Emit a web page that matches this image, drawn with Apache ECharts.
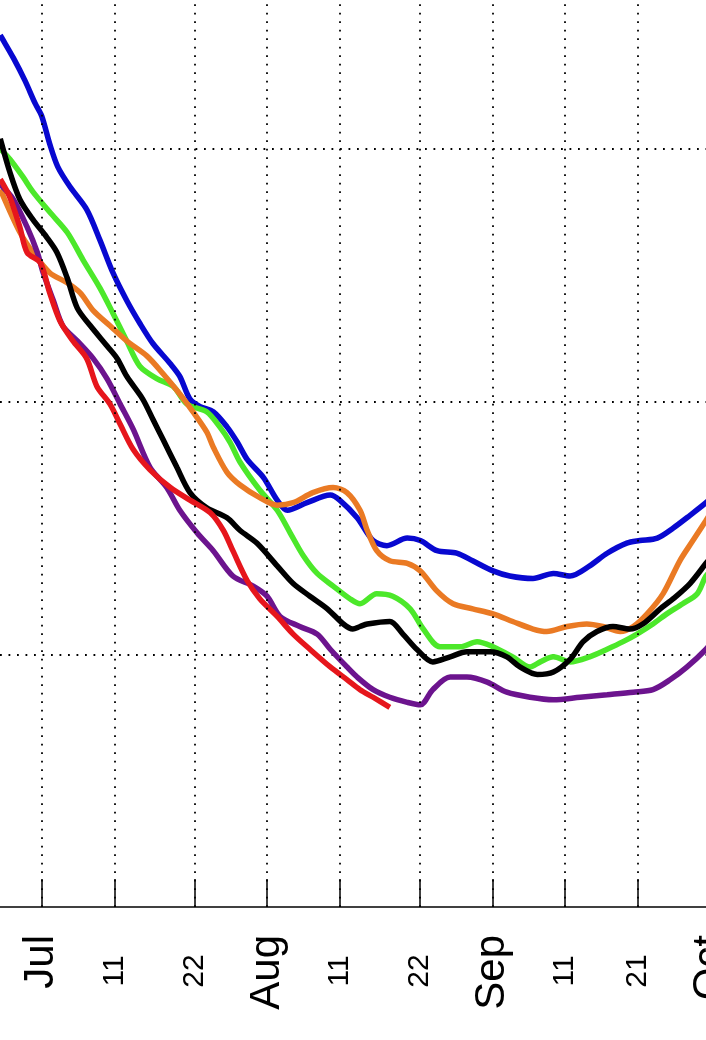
<!DOCTYPE html>
<html>
<head>
<meta charset="utf-8">
<script src="https://cdn.jsdelivr.net/npm/echarts@6/dist/echarts.min.js"></script>
<style>
html,body{margin:0;padding:0;background:#fff;}
#chart{width:706px;height:1040px;}
</style>
</head>
<body>
<div id="chart"></div>
<script>
// Tick positions (day of year) and their labels
const tickDays   = [182, 192, 203, 213, 223, 234, 244, 254, 264, 274];
const tickLabels = ['Jul', '11', '22', 'Aug', '11', '22', 'Sep', '11', '21', 'Oct'];
const monthDays  = [182, 213, 244, 274];
const dayDays    = [192, 203, 223, 234, 254, 264];

// Series: [day of year, extent]
const blueData = [[176.3,5.45],[176.5,5.44],[178.1,5.36],[179.7,5.27],[181.1,5.18],[182.0,5.13],[183.1,5.02],[184.2,4.93],[185.9,4.85],[188.2,4.76],[190.0,4.64],[191.8,4.51],[193.7,4.40],[195.5,4.31],[197.3,4.23],[199.7,4.15],[201.0,4.10],[202.4,4.01],[203.8,3.98],[205.6,3.96],[207.5,3.90],[208.9,3.84],[210.3,3.77],[212.5,3.70],[214.4,3.61],[215.8,3.57],[218.5,3.60],[221.7,3.63],[223.0,3.61],[225.4,3.54],[227.6,3.45],[229.5,3.43],[232.3,3.46],[234.1,3.45],[236.4,3.41],[239.1,3.40],[241.3,3.37],[244.1,3.33],[246.4,3.31],[249.6,3.30],[252.4,3.32],[254.7,3.31],[257.4,3.35],[259.8,3.40],[262.5,3.44],[264.3,3.45],[266.7,3.46],[268.9,3.50],[271.2,3.55],[273.4,3.60],[274.5,3.63]];
const greenData = [[176.3,5.00],[177.6,4.96],[179.4,4.89],[180.8,4.83],[183.1,4.75],[185.5,4.67],[187.7,4.56],[190.0,4.45],[191.8,4.35],[193.7,4.24],[195.5,4.14],[197.9,4.09],[200.1,4.06],[202.0,3.99],[204.7,3.96],[206.5,3.90],[207.9,3.84],[209.3,3.76],[212.0,3.65],[214.4,3.57],[216.2,3.48],[218.0,3.39],[219.9,3.32],[222.1,3.27],[224.4,3.22],[225.8,3.20],[228.1,3.24],[230.3,3.23],[232.7,3.18],[234.5,3.10],[236.8,3.03],[239.6,3.03],[241.9,3.05],[244.1,3.03],[246.8,2.99],[249.2,2.95],[250.6,2.97],[252.4,2.99],[254.7,2.97],[257.4,2.99],[259.8,3.02],[262.0,3.05],[263.9,3.08],[266.1,3.12],[268.0,3.16],[270.2,3.20],[272.2,3.24],[273.4,3.31],[274.5,3.34]];
const orangeData = [[176.3,4.84],[179.0,4.67],[180.8,4.59],[183.1,4.51],[185.5,4.47],[187.3,4.43],[189.1,4.36],[191.4,4.30],[193.7,4.24],[196.5,4.18],[198.7,4.11],[201.0,4.03],[202.8,3.96],[204.7,3.88],[205.6,3.82],[207.5,3.72],[209.3,3.67],[212.0,3.62],[214.4,3.59],[216.6,3.60],[219.3,3.64],[222.1,3.66],[224.0,3.64],[225.8,3.57],[226.8,3.49],[228.1,3.41],[229.9,3.37],[232.3,3.36],[234.1,3.33],[236.4,3.25],[238.6,3.20],[241.3,3.18],[244.1,3.16],[246.8,3.13],[249.6,3.10],[251.5,3.09],[254.3,3.11],[257.0,3.12],[259.2,3.11],[261.6,3.09],[263.4,3.11],[265.3,3.16],[267.5,3.24],[269.8,3.37],[271.6,3.45],[273.4,3.53],[274.5,3.58]];
const purpleData = [[176.3,4.86],[178.1,4.80],[180.0,4.69],[181.4,4.59],[182.2,4.51],[183.6,4.40],[184.9,4.30],[186.9,4.24],[189.1,4.17],[191.0,4.09],[192.8,3.99],[194.6,3.89],[196.9,3.74],[199.2,3.66],[201.0,3.57],[203.4,3.48],[205.6,3.41],[208.3,3.31],[211.1,3.27],[213.0,3.23],[214.8,3.15],[217.5,3.11],[219.9,3.08],[221.7,3.02],[224.0,2.95],[225.4,2.91],[227.6,2.86],[229.9,2.83],[232.3,2.81],[234.1,2.80],[235.8,2.86],[238.2,2.91],[240.5,2.91],[243.3,2.89],[246.0,2.85],[249.2,2.83],[252.4,2.82],[256.1,2.83],[259.8,2.84],[263.4,2.85],[266.1,2.86],[268.5,2.90],[270.8,2.95],[273.4,3.02],[274.5,3.06]];
const blackData = [[176.3,5.04],[177.6,4.91],[179.0,4.80],[180.8,4.72],[182.7,4.65],[184.1,4.59],[185.5,4.49],[186.9,4.37],[188.7,4.30],[191.0,4.22],[192.4,4.17],[193.7,4.10],[195.9,4.01],[197.3,3.93],[198.7,3.85],[200.6,3.74],[202.4,3.64],[204.7,3.58],[207.5,3.54],[209.3,3.49],[211.6,3.44],[214.4,3.35],[216.6,3.28],[218.9,3.23],[221.3,3.18],[223.5,3.12],[224.8,3.10],[225.8,3.11],[226.8,3.12],[229.9,3.13],[231.7,3.08],[233.6,3.02],[235.8,2.97],[238.2,2.99],[240.5,3.01],[243.7,3.01],[246.0,2.99],[247.8,2.95],[250.2,2.92],[252.4,2.93],[254.7,2.98],[256.5,3.05],[258.4,3.09],[260.6,3.11],[262.9,3.10],[264.7,3.12],[267.1,3.18],[268.9,3.22],[271.2,3.28],[273.4,3.36],[274.5,3.40]];
const redData = [[176.3,4.88],[177.6,4.81],[179.0,4.69],[180.0,4.59],[181.8,4.55],[183.1,4.43],[184.5,4.32],[186.3,4.24],[188.2,4.17],[189.6,4.06],[191.4,3.99],[192.8,3.91],[194.6,3.81],[196.9,3.73],[199.7,3.66],[202.4,3.61],[205.2,3.56],[207.0,3.49],[208.3,3.41],[210.3,3.29],[212.0,3.22],[214.4,3.15],[216.6,3.08],[218.9,3.02],[221.7,2.95],[224.0,2.90],[225.8,2.86],[227.6,2.83],[229.9,2.79]];

const seriesDefs = [
  {name: 'blue',   data: blueData,   color: '#0808d0'},
  {name: 'green',  data: greenData,  color: '#4ce82a'},
  {name: 'orange', data: orangeData, color: '#ea7a24'},
  {name: 'purple', data: purpleData, color: '#6c148e'},
  {name: 'black',  data: blackData,  color: '#000000'},
  {name: 'red',    data: redData,    color: '#e6161c'}
];

const PX_PER_DAY = 7.268;
const LEFT_DAY = 176.263;
const GRID_RIGHT = -20;
const gridWidth = 706 - GRID_RIGHT;
const xMax = LEFT_DAY + gridWidth / PX_PER_DAY;
const Y_MIN = 2;
const Y_MAX = 2 + 907 / 252.7;
const TICK_LEN = 28 / 252.7; // tick length expressed in axis units

function labelFor(v) {
  const i = tickDays.indexOf(Math.round(v));
  return i >= 0 ? tickLabels[i] : '';
}

const dotted = {color: '#000', width: 1.8, type: [1.8, 6.7]};

const lineSeries = seriesDefs.map(s => ({
  name: s.name, type: 'line', xAxisIndex: 0, data: s.data,
  showSymbol: false, symbol: 'none', smooth: 0.3, z: 3,
  lineStyle: {color: s.color, width: 5.5}, itemStyle: {color: s.color}
}));

// vertical dotted grid lines at the tick dates
const gridSeries = {
  name: 'vgrid', type: 'line', xAxisIndex: 0, data: [], z: 1, silent: true,
  markLine: {
    silent: true, symbol: 'none', animation: false,
    label: {show: false}, lineStyle: dotted, emphasis: {disabled: true},
    data: tickDays.map(d => ({xAxis: d}))
  }
};
// inward tick marks on the date axis
const tickSeries = {
  name: 'ticks', type: 'line', xAxisIndex: 0, data: [], z: 2, silent: true,
  markLine: {
    silent: true, symbol: 'none', animation: false,
    label: {show: false}, lineStyle: {color: '#000', width: 1.5, type: 'solid'}, emphasis: {disabled: true},
    data: tickDays.map(d => [{coord: [d, Y_MIN]}, {coord: [d, Y_MIN + TICK_LEN]}])
  }
};

const chart = echarts.init(document.getElementById('chart'), null, {renderer: 'canvas'});
chart.setOption({
  animation: false,
  backgroundColor: '#fff',
  grid: {left: 0, right: GRID_RIGHT, top: 0, bottom: 133, containLabel: false, outerBoundsMode: 'none'},
  xAxis: [
    {
      type: 'value', min: LEFT_DAY, max: xMax, position: 'bottom',
      axisLine: {show: true, onZero: false, lineStyle: {color: '#000', width: 1.5}},
      axisTick: {show: false},
      splitLine: {show: false},
      axisLabel: {
        customValues: monthDays, formatter: labelFor, rotate: 90, margin: 28,
        fontSize: 42, fontFamily: 'Liberation Sans', color: '#000'
      }
    },
    {
      type: 'value', min: LEFT_DAY, max: xMax, position: 'bottom',
      axisLine: {show: false}, axisTick: {show: false}, splitLine: {show: false},
      axisLabel: {
        customValues: dayDays, formatter: labelFor, rotate: 90, margin: 64, align: 'center',
        fontSize: 30, fontFamily: 'Liberation Sans', color: '#000'
      }
    }
  ],
  yAxis: {
    type: 'value', min: Y_MIN, max: Y_MAX, interval: 1,
    axisLine: {show: false}, axisTick: {show: false}, axisLabel: {show: false},
    splitLine: {show: true, showMinLine: false, showMaxLine: false, lineStyle: dotted}
  },
  series: [gridSeries, tickSeries].concat(lineSeries)
});
</script>
</body>
</html>
